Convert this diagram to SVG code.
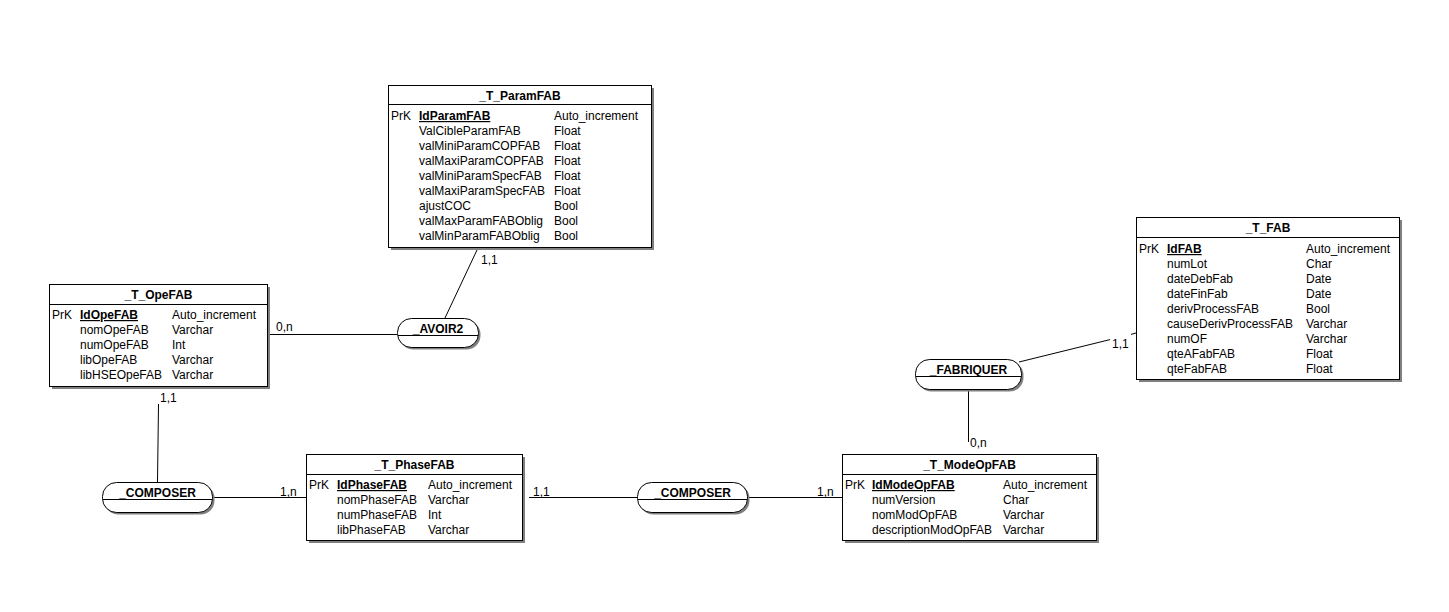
<svg xmlns="http://www.w3.org/2000/svg" width="1449" height="612" viewBox="0 0 1449 612">
<style>
text{font-family:"Liberation Sans",Arial,sans-serif;font-size:12px;fill:#000}
.h{font-weight:bold;text-anchor:middle}
.pk{font-weight:bold;text-decoration:underline}
.box{fill:#fff;stroke:#000;stroke-width:1;shape-rendering:crispEdges}
.sh{fill:#808080;shape-rendering:crispEdges}
.sep{stroke:#000;stroke-width:1;shape-rendering:crispEdges}
.pill{fill:#fff;stroke:#000;stroke-width:1}
.pillsh{fill:#808080}
.c line{stroke:#000;stroke-width:1}
</style>
<rect width="1449" height="612" fill="#fff"/>

<g id="connectors" class="c">
  <line x1="270" y1="334.5" x2="397" y2="334.5"/>
  <line x1="445" y1="318" x2="477" y2="250"/>
  <line x1="158.5" y1="404" x2="157.5" y2="482"/>
  <line x1="214" y1="497.5" x2="306" y2="497.5"/>
  <line x1="529" y1="497.5" x2="637" y2="497.5"/>
  <line x1="749" y1="497.5" x2="842" y2="497.5"/>
  <line x1="968.5" y1="391" x2="968.5" y2="442"/>
  <line x1="1019" y1="362" x2="1110" y2="339.6"/>
  <line x1="1131" y1="334.4" x2="1136" y2="333"/>
  <text x="276" y="331">0,n</text>
  <text x="481" y="264">1,1</text>
  <text x="160" y="402">1,1</text>
  <text x="280" y="496">1,n</text>
  <text x="533" y="496">1,1</text>
  <text x="817" y="496">1,n</text>
  <text x="970" y="447">0,n</text>
  <text x="1112" y="348">1,1</text>
</g>

<g id="T_ParamFAB">
  <rect class="sh" x="391" y="88" width="263" height="162"/>
  <rect class="box" x="388.5" y="85.5" width="263" height="162"/>
  <line class="sep" x1="388" y1="104.5" x2="652" y2="104.5"/>
  <text class="h" x="520" y="100">_T_ParamFAB</text>
  <text x="391" y="120">PrK</text><text class="pk" x="419" y="120">IdParamFAB</text><text x="554" y="120">Auto_increment</text>
  <text x="419" y="135">ValCibleParamFAB</text><text x="554" y="135">Float</text>
  <text x="419" y="150">valMiniParamCOPFAB</text><text x="554" y="150">Float</text>
  <text x="419" y="165">valMaxiParamCOPFAB</text><text x="554" y="165">Float</text>
  <text x="419" y="180">valMiniParamSpecFAB</text><text x="554" y="180">Float</text>
  <text x="419" y="195">valMaxiParamSpecFAB</text><text x="554" y="195">Float</text>
  <text x="419" y="210">ajustCOC</text><text x="554" y="210">Bool</text>
  <text x="419" y="225">valMaxParamFABOblig</text><text x="554" y="225">Bool</text>
  <text x="419" y="240">valMinParamFABOblig</text><text x="554" y="240">Bool</text>
</g>

<g id="T_OpeFAB">
  <rect class="sh" x="52" y="287" width="218" height="102"/>
  <rect class="box" x="49.5" y="284.5" width="218" height="102"/>
  <line class="sep" x1="49" y1="304.5" x2="268" y2="304.5"/>
  <text class="h" x="158.5" y="299">_T_OpeFAB</text>
  <text x="52" y="319">PrK</text><text class="pk" x="80" y="319">IdOpeFAB</text><text x="172" y="319">Auto_increment</text>
  <text x="80" y="334">nomOpeFAB</text><text x="172" y="334">Varchar</text>
  <text x="80" y="349">numOpeFAB</text><text x="172" y="349">Int</text>
  <text x="80" y="364">libOpeFAB</text><text x="172" y="364">Varchar</text>
  <text x="80" y="379">libHSEOpeFAB</text><text x="172" y="379">Varchar</text>
</g>

<g id="T_FAB">
  <rect class="sh" x="1139" y="220" width="263" height="162"/>
  <rect class="box" x="1136.5" y="217.5" width="263" height="162"/>
  <line class="sep" x1="1136" y1="237.5" x2="1400" y2="237.5"/>
  <text class="h" x="1268" y="232">_T_FAB</text>
  <text x="1139" y="253">PrK</text><text class="pk" x="1167" y="253">IdFAB</text><text x="1306" y="253">Auto_increment</text>
  <text x="1167" y="268">numLot</text><text x="1306" y="268">Char</text>
  <text x="1167" y="283">dateDebFab</text><text x="1306" y="283">Date</text>
  <text x="1167" y="298">dateFinFab</text><text x="1306" y="298">Date</text>
  <text x="1167" y="313">derivProcessFAB</text><text x="1306" y="313">Bool</text>
  <text x="1167" y="328">causeDerivProcessFAB</text><text x="1306" y="328">Varchar</text>
  <text x="1167" y="343">numOF</text><text x="1306" y="343">Varchar</text>
  <text x="1167" y="358">qteAFabFAB</text><text x="1306" y="358">Float</text>
  <text x="1167" y="373">qteFabFAB</text><text x="1306" y="373">Float</text>
</g>

<g id="T_PhaseFAB">
  <rect class="sh" x="309" y="457" width="216" height="86"/>
  <rect class="box" x="306.5" y="454.5" width="216" height="86"/>
  <line class="sep" x1="306" y1="474.5" x2="523" y2="474.5"/>
  <text class="h" x="414.5" y="469">_T_PhaseFAB</text>
  <text x="309" y="489">PrK</text><text class="pk" x="337" y="489">IdPhaseFAB</text><text x="428" y="489">Auto_increment</text>
  <text x="337" y="504">nomPhaseFAB</text><text x="428" y="504">Varchar</text>
  <text x="337" y="519">numPhaseFAB</text><text x="428" y="519">Int</text>
  <text x="337" y="534">libPhaseFAB</text><text x="428" y="534">Varchar</text>
</g>

<g id="T_ModeOpFAB">
  <rect class="sh" x="845" y="457" width="254" height="86"/>
  <rect class="box" x="842.5" y="454.5" width="254" height="86"/>
  <line class="sep" x1="842" y1="474.5" x2="1097" y2="474.5"/>
  <text class="h" x="969.5" y="469">_T_ModeOpFAB</text>
  <text x="845" y="489">PrK</text><text class="pk" x="872" y="489">IdModeOpFAB</text><text x="1003" y="489">Auto_increment</text>
  <text x="872" y="504">numVersion</text><text x="1003" y="504">Char</text>
  <text x="872" y="519">nomModOpFAB</text><text x="1003" y="519">Varchar</text>
  <text x="872" y="534">descriptionModOpFAB</text><text x="1003" y="534">Varchar</text>
</g>

<g id="AVOIR2">
  <rect class="pillsh" x="399.5" y="320.5" width="81" height="29" rx="14" ry="14"/>
  <rect class="pill" x="397.5" y="318.5" width="81" height="29" rx="14" ry="14"/>
  <line class="sep" x1="398" y1="335.5" x2="478" y2="335.5"/>
  <text class="h" x="438" y="333">_AVOIR2</text>
</g>

<g id="FABRIQUER">
  <rect class="pillsh" x="917.5" y="361.5" width="106" height="30" rx="14" ry="14"/>
  <rect class="pill" x="915.5" y="359.5" width="106" height="30" rx="14" ry="14"/>
  <line class="sep" x1="916" y1="376.5" x2="1021" y2="376.5"/>
  <text class="h" x="968.5" y="374">_FABRIQUER</text>
</g>

<g id="COMPOSER1">
  <rect class="pillsh" x="104.5" y="484.5" width="110" height="30" rx="14" ry="14"/>
  <rect class="pill" x="102.5" y="482.5" width="110" height="30" rx="14" ry="14"/>
  <line class="sep" x1="103" y1="499.5" x2="212" y2="499.5"/>
  <text class="h" x="157.5" y="497">_COMPOSER</text>
</g>

<g id="COMPOSER2">
  <rect class="pillsh" x="639.5" y="484.5" width="110" height="30" rx="14" ry="14"/>
  <rect class="pill" x="637.5" y="482.5" width="110" height="30" rx="14" ry="14"/>
  <line class="sep" x1="638" y1="499.5" x2="747" y2="499.5"/>
  <text class="h" x="692.5" y="497">_COMPOSER</text>
</g>
</svg>
